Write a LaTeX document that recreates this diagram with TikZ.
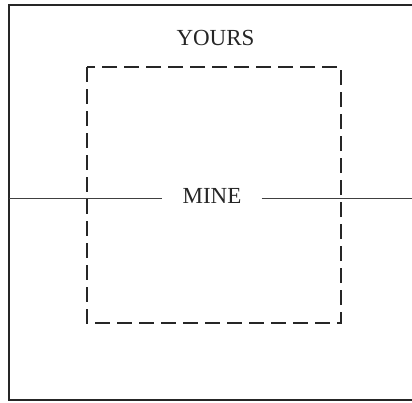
\documentclass[tikz,border=0pt]{standalone}
\usepackage{fontspec}
\setmainfont{Liberation Serif}
\usepackage{xcolor}

\tikzset{
  frameline/.style={line width=1.3pt, black!85},
  territory/.style={line width=1.8pt, black!85, dash pattern=on 15pt off 7pt},
  splitline/.style={line width=1pt, black!75},
  owner/.style={font=\fontsize{23}{25}\selectfont, text=black!85, inner xsep=20pt, inner ysep=0pt}
}

\begin{document}
\begin{tikzpicture}[x=1pt, y=-1pt]
            \useasboundingbox (0,0) rectangle (412,402);
            % Outer frame (right side runs off the page)
            \draw[frameline] (412,5) -- (9,5) -- (9,400) -- (412,400);
            
            % Dashed inner square
            \draw[territory] (87,67) rectangle (341,323);
            
            % Labels
            \node[owner] (yours) at (215.5,38) {YOURS};
            \node[owner] (mine) at (212,196) {MINE};
            
            % Dividing line
            \coordinate (leftend) at (9,198);
            \coordinate (rightend) at (412,198);
            \draw[splitline] (leftend) -- (leftend -| mine.west);
            \draw[splitline] (rightend -| mine.east) -- (rightend);
        \end{tikzpicture}
\end{document}
